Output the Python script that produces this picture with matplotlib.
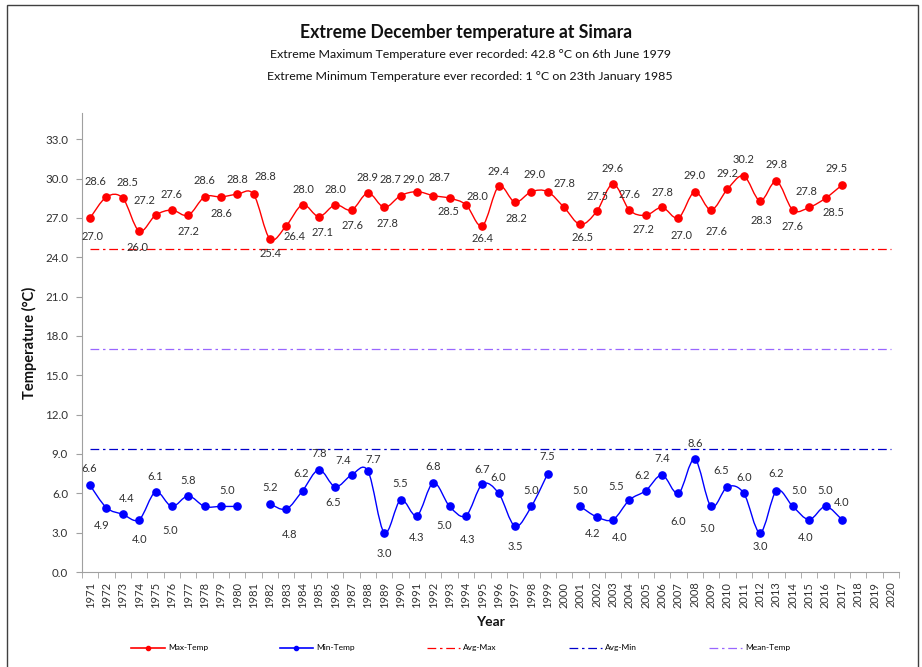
import numpy as np
import matplotlib.pyplot as plt
from matplotlib.path import Path
from matplotlib.patches import PathPatch, Rectangle
from matplotlib.lines import Line2D

plt.rcParams['font.family'] = ['Lato', 'DejaVu Sans']

# axis categories and data
years = list(range(1971, 2021))
data_years = list(range(1971, 2018))

max_temp = [27.0, 28.6, 28.5, 26.0, 27.2, 27.6, 27.2, 28.6, 28.6, 28.8,
            28.8, 25.4, 26.4, 28.0, 27.1, 28.0, 27.6, 28.9, 27.8, 28.7,
            29.0, 28.7, 28.5, 28.0, 26.4, 29.4, 28.2, 29.0, 29.0, 27.8,
            26.5, 27.5, 29.6, 27.6, 27.2, 27.8, 27.0, 29.0, 27.6, 29.2,
            30.2, 28.3, 29.8, 27.6, 27.8, 28.5, 29.5]
min_temp = [6.6, 4.9, 4.4, 4.0, 6.1, 5.0, 5.8, 5.0, 5.0, 5.0,
            np.nan, 5.2, 4.8, 6.2, 7.8, 6.5, 7.4, 7.7, 3.0, 5.5,
            4.3, 6.8, 5.0, 4.3, 6.7, 6.0, 3.5, 5.0, 7.5, np.nan,
            5.0, 4.2, 4.0, 5.5, 6.2, 7.4, 6.0, 8.6, 5.0, 6.5,
            6.0, 3.0, 6.2, 5.0, 4.0, 5.0, 4.0]
avg_max = 24.6
avg_min = 9.4
mean_temp = 17.0

# label offsets in pixels (dx, dy up); None = no label shown
max_label_pos = [(2, -19), (-11, 15), (5, 16), (-2, -16), (-11, 15), (0, 16), (0, -16), (0, 16), (1, -17), (0, 15),
                 (12, 18), (1, -15), (8, -11), (1, 15), (4, -16), (0, 15), (1, -15), (0, 15), (3, -16), (-10, 16),
                 (-3, 12), (6, 18), (-1, -13), (11, 8), (0, -13), (0, 15), (1, -16), (3, 17), None, (0, 24),
                 (2, -13), (1, 15), (0, 15), (0, 16), (-2, -14), (0, 15), (3, -18), (0, 16), (5, -21), (0, 16),
                 (0, 16), (1, -20), (0, 17), (0, -16), (-3, 16), (8, -14), (-5, 17)]
min_label_pos = [(-1, 17), (-5, -18), (4, 16), (0, -20), (0, 16), (-2, -24), (0, 15), None, (6, 16), None,
                 None, (0, 16), (3, -25), (-1, 17), (0, 16), (-2, -16), (-8, 14), (5, 12), (0, -21), (0, 16),
                 (0, -22), (0, 16), (-5, -19), (2, -24), (0, 15), (0, 16), (0, -20), (0, 16), (0, 17), None,
                 (0, 16), (-4, -17), (7, -18), (-13, 13), (-4, 15), (0, 16), (0, -28), (0, 16), (-4, -22), (-6, 16),
                 (0, 16), (0, -14), (0, 17), (6, 16), (-4, -18), (0, 16), (0, 17)]


def smooth_path(x, y):
    # Excel-like smoothed line: cubic bezier through the points, broken at gaps
    x = np.asarray(x, float)
    y = np.asarray(y, float)
    runs, start = [], None
    for i, v in enumerate(~np.isnan(y)):
        if v and start is None:
            start = i
        if not v and start is not None:
            runs.append((start, i))
            start = None
    if start is not None:
        runs.append((start, len(y)))
    verts, codes = [], []
    for a, b in runs:
        px, py = x[a:b], y[a:b]
        n = len(px)
        verts.append((px[0], py[0]))
        codes.append(Path.MOVETO)
        for i in range(n - 1):
            i0 = max(i - 1, 0)
            i3 = min(i + 2, n - 1)
            c1 = (px[i] + (px[i + 1] - px[i0]) / 6, py[i] + (py[i + 1] - py[i0]) / 6)
            c2 = (px[i + 1] - (px[i3] - px[i]) / 6, py[i + 1] - (py[i3] - py[i]) / 6)
            verts += [c1, c2, (px[i + 1], py[i + 1])]
            codes += [Path.CURVE4] * 3
    return Path(verts, codes)


fig = plt.figure(figsize=(9.22, 6.67), dpi=100)
ax = fig.add_axes([0.0889, 0.1424, 0.8862, 0.6882])

dash_dot = (0, (7, 3, 2, 3))
ax.plot([years[0], years[-1]], [avg_max, avg_max], color='#ff0000', lw=0.9, ls=dash_dot)
ax.plot([years[0], years[-1]], [avg_min, avg_min], color='#0000cc', lw=0.9, ls=dash_dot)
ax.plot([years[0], years[-1]], [mean_temp, mean_temp], color='#9966ff', lw=0.9, ls=dash_dot)

for vals, col in [(max_temp, '#ff0000'), (min_temp, '#0000ff')]:
    ax.add_patch(PathPatch(smooth_path(data_years, vals), facecolor='none',
                           edgecolor=col, lw=1.0, zorder=3))
    ax.plot(data_years, vals, 'o', color=col, ms=5.2, ls='none', zorder=4)

for vals, pos in [(max_temp, max_label_pos), (min_temp, min_label_pos)]:
    for yr, v, p in zip(data_years, vals, pos):
        if p is None or np.isnan(v):
            continue
        ax.annotate(f'{v:.1f}', (yr, v), xytext=p, textcoords='offset pixels',
                    ha='center', va='center', fontsize=8, color='#303030')

ax.set_xlim(years[0] - 0.5, years[-1] + 0.5)
ax.set_ylim(0, 35)
ax.set_yticks(np.arange(0, 34, 3))
ax.set_yticklabels([f'{t:.1f}' for t in np.arange(0, 34, 3)], fontsize=8.3, color='#303030')
ax.set_xticks(years)
ax.set_xticklabels([str(y) for y in years], rotation=90, fontsize=8, color='#303030')
ax.set_xticks(np.arange(years[0] - 0.5, years[-1] + 1), minor=True)
ax.tick_params(axis='x', which='major', length=0, pad=7)
ax.tick_params(axis='x', which='minor', length=4, color='#a0a0a0', direction='out')
ax.tick_params(axis='y', length=4, color='#a0a0a0', pad=6)
for s in ['top', 'right']:
    ax.spines[s].set_visible(False)
for s in ['left', 'bottom']:
    ax.spines[s].set_color('#a0a0a0')

fig.text(0.505, 0.952, 'Extreme December temperature at Simara', ha='center', va='center',
         fontsize=12.7, fontweight='bold', color='#111111')
fig.text(0.51, 0.919, 'Extreme Maximum Temperature ever recorded: 42.8 °C on 6th June 1979',
         ha='center', va='center', fontsize=8.9, color='#111111')
fig.text(0.51, 0.886, 'Extreme Minimum Temperature ever recorded: 1 °C on 23th January 1985',
         ha='center', va='center', fontsize=8.9, color='#111111')
fig.text(0.0325, 0.486, 'Temperature (°C)', rotation=90, ha='center', va='center',
         fontsize=10.5, fontweight='bold', color='#111111')
fig.text(0.532, 0.0675, 'Year', ha='center', va='center', fontsize=10, fontweight='bold', color='#111111')

handles = [
    Line2D([], [], color='#ff0000', lw=1.2, marker='o', ms=3),
    Line2D([], [], color='#0000ff', lw=1.2, marker='o', ms=3),
    Line2D([], [], color='#ff0000', lw=0.9, ls=dash_dot),
    Line2D([], [], color='#0000cc', lw=0.9, ls=dash_dot),
    Line2D([], [], color='#9966ff', lw=0.9, ls=dash_dot),
]
fig.legend(handles, ['Max-Temp', 'Min-Temp', 'Avg-Max', 'Avg-Min', 'Mean-Temp'],
           loc='center', bbox_to_anchor=(0.5, 0.0285), ncol=5, frameon=False,
           fontsize=6, handlelength=4, handletextpad=0.4, columnspacing=8.6,
           markerfirst=True)

fig.add_artist(Rectangle((7 / 922, -0.01), 911 / 922, 1 - 5 / 667 + 0.01, transform=fig.transFigure,
                         fill=False, edgecolor='#404040', lw=1.0))

fig.savefig('out.png', dpi=100)
